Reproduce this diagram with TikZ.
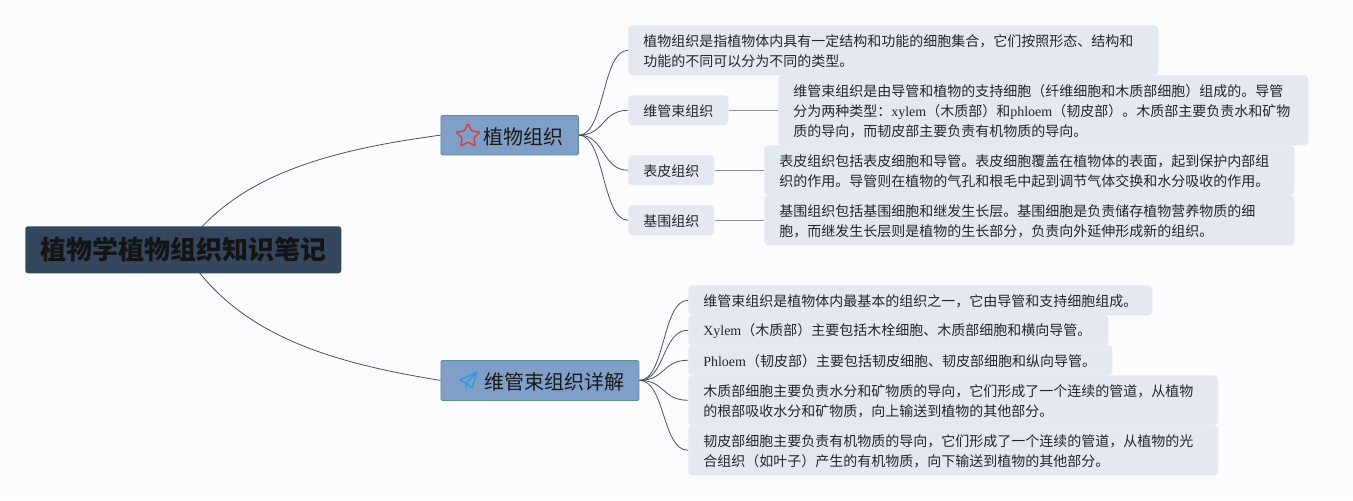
\documentclass[tikz,border=0pt]{standalone}
\usepackage{fontspec}
\setmainfont{Noto Sans CJK SC}
\newfontfamily\latf{Liberation Serif}
\newcommand{\lat}[1]{{\latf #1}}
\usetikzlibrary{backgrounds,shapes.geometric}
\definecolor{pagec}{HTML}{FCFCFE}
\definecolor{leafc}{HTML}{E3E8F1}
\definecolor{rootc}{HTML}{34475F}
\definecolor{midc}{HTML}{7F9FC8}
\definecolor{midb}{HTML}{5B8D9B}
\definecolor{edgec}{HTML}{4A4F63}
\definecolor{linkc}{HTML}{8E929E}
\definecolor{txtc}{HTML}{23262D}
\definecolor{starc}{RGB}{214,64,58}
\definecolor{planec}{RGB}{52,152,219}
\tikzset{
  x=0.75pt,y=-0.75pt,
  leaf/.style 2 args={anchor=north west,fill=leafc,rounded corners=3pt,inner xsep=11.25pt,inner ysep=0pt,
    text width=(#1-30)*0.75pt,minimum height=#2*0.75pt,align=left,text=txtc,font=\fontsize{10.5}{15}\selectfont,
    execute at begin node={\rule[-1.2pt]{0pt}{11.6pt}}},
  mid/.style 2 args={anchor=north west,fill=midc,draw=midb,line width=0.6pt,rounded corners=1pt,inner sep=0pt,
    minimum width=#1*0.75pt,minimum height=#2*0.75pt},
  midtext/.style={anchor=west,inner sep=0pt,text=black!90,font=\fontsize{15}{18}\selectfont},
  rootbox/.style={anchor=north west,fill=rootc,rounded corners=2pt,inner sep=0pt,minimum width=237pt,minimum height=35.25pt,
    text=black!92,font=\fontsize{19.5}{22}\selectfont\bfseries},
  curve/.style={draw=edgec,line width=0.6pt},
  link/.style={draw=linkc,line width=1.1pt},
}
\begin{document}
\begin{tikzpicture}
\useasboundingbox (0,0) rectangle (1353,500);
% root
\node[rootbox] (root) at (25,226) {\raisebox{-0.8pt}{植物学植物组织知识笔记}};
% level 1
\node[mid={137.5}{39.5}] (m1) at (440.5,115) {};
\node[midtext] (m1t) at (483,136.5) {植物组织};
\node[mid={198}{40}] (m2) at (440.5,360) {};
\node[midtext] (m2t) at (484,381.5) {维管束组织详解};
% icons
\node[star,star points=5,star point ratio=2.1,inner sep=0pt,minimum size=19pt,draw=starc,line width=1.1pt,rounded corners=1pt] (staricon) at (468,136) {};
\draw[draw=planec,line width=1.1pt,line join=round]
  (476.7,372) -- (460,380) -- (466.3,383.4) -- (472.2,387.8) -- cycle (476.7,372) -- (466.3,383.4) -- (466.3,388.4);
% upper leaves
\node[leaf={530}{50}] (a1) at (628,25) {植物组织是指植物体内具有一定结构和功能的细胞集合，它们按照形态、结构和\\功能的不同可以分为不同的类型。};
\node[leaf={100}{30}] (a2) at (628,95) {维管束组织};
\node[leaf={86}{30}] (a3) at (628,155) {表皮组织};
\node[leaf={86}{30}] (a4) at (628,205) {基围组织};
\node[leaf={530}{70}] (b2) at (778,75) {维管束组织是由导管和植物的支持细胞（纤维细胞和木质部细胞）组成的。导管\\分为两种类型：\lat{xylem}（木质部）和\lat{phloem}（韧皮部）。木质部主要负责水和矿物\\质的导向，而韧皮部主要负责有机物质的导向。};
\node[leaf={530}{50}] (b3) at (764,145) {表皮组织包括表皮细胞和导管。表皮细胞覆盖在植物体的表面，起到保护内部组\\织的作用。导管则在植物的气孔和根毛中起到调节气体交换和水分吸收的作用。};
\node[leaf={530}{50}] (b4) at (764,195) {基围组织包括基围细胞和继发生长层。基围细胞是负责储存植物营养物质的细\\胞，而继发生长层则是植物的生长部分，负责向外延伸形成新的组织。};
% lower leaves
\node[leaf={464}{30}] (c1) at (688,285) {维管束组织是植物体内最基本的组织之一，它由导管和支持细胞组成。};
\node[leaf={420}{30}] (c2) at (688,315) {\lat{Xylem}（木质部）主要包括木栓细胞、木质部细胞和横向导管。};
\node[leaf={424}{30}] (c3) at (688,345) {\lat{Phloem}（韧皮部）主要包括韧皮细胞、韧皮部细胞和纵向导管。};
\node[leaf={530}{50}] (c4) at (688,375) {木质部细胞主要负责水分和矿物质的导向，它们形成了一个连续的管道，从植物\\的根部吸收水分和矿物质，向上输送到植物的其他部分。};
\node[leaf={530}{50}] (c5) at (688,425) {韧皮部细胞主要负责有机物质的导向，它们形成了一个连续的管道，从植物的光\\合组织（如叶子）产生的有机物质，向下输送到植物的其他部分。};
% connectors
\begin{scope}[on background layer]
\fill[pagec] (0,0) rectangle (1353,500);
\draw[curve] (root.center) .. controls +(52,-75) and +(-111,15) .. (m1.west);
\draw[curve] (root.center) .. controls +(52,85) and +(-111,-18) .. (m2.west);
\foreach \t in {a1,a2,a3,a4}
  \draw[curve] (m1.east) .. controls +(26,0) and +(-26,0) .. (\t.west);
\foreach \t in {c1,c2,c3,c4,c5}
  \draw[curve] (m2.east) .. controls +(26,0) and +(-26,0) .. (\t.west);
\draw[link] (a2.east) -- (b2.west |- a2.east);
\draw[link] (a3.east) -- (b3.west |- a3.east);
\draw[link] (a4.east) -- (b4.west |- a4.east);
\end{scope}
\end{tikzpicture}
\end{document}
